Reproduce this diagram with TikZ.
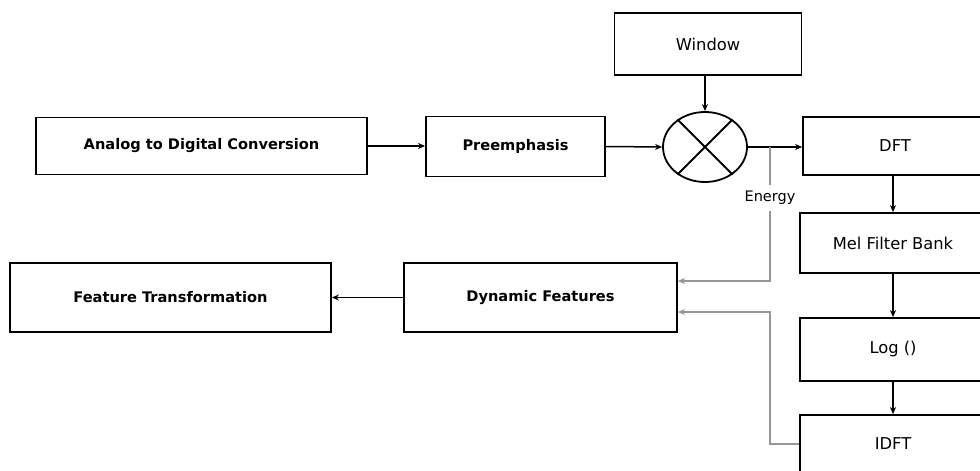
\documentclass[tikz,border=0pt]{standalone}
\usepackage{fontspec}
\setmainfont{DejaVu Sans}
\usetikzlibrary{arrows.meta,shapes.geometric}
\definecolor{lgray}{RGB}{150,150,150}
\begin{document}
\begin{tikzpicture}[x=1pt,y=-1pt,
  lbox/.style={draw=black,line width=1.8pt,inner sep=0pt,font=\fontsize{14.6}{17}\selectfont\bfseries},
  rbox/.style={draw=black,line width=1.8pt,inner sep=0pt,font=\fontsize{16.3}{19}\selectfont},
  arr/.style={line width=1.5pt,-{Stealth[length=7pt,width=6pt]}},
  garr/.style={arr,draw=lgray}]
\fill[white] (0,0) rectangle (980,471);
\useasboundingbox (0,0) rectangle (980,471);
\clip (0,0) rectangle (980,471);
\node[lbox,minimum width=331pt,minimum height=57pt] (adc) at (201.5,146) {Analog to Digital Conversion};
\node[lbox,minimum width=179pt,minimum height=60pt] (pre) at (515.5,146.5) {Preemphasis};
\node[draw,ellipse,line width=1.8pt,minimum width=84pt,minimum height=70pt,inner sep=0pt] (mix) at (705,147) {};
\node[rbox,minimum width=187pt,minimum height=62pt] (win) at (708,44) {Window};
\node[rbox,minimum width=184pt,minimum height=58pt] (dft) at (895,146) {DFT};
\node[rbox,minimum width=186pt,minimum height=60pt] (mel) at (893,243) {Mel Filter Bank};
\node[rbox,minimum width=186pt,minimum height=63pt] (log) at (893,349.5) {Log ()};
\node[rbox,minimum width=186pt,minimum height=58pt] (idft) at (893,444) {IDFT};
\node[lbox,minimum width=321pt,minimum height=69pt] (ft) at (170.5,297.5) {Feature Transformation};
\node[lbox,minimum width=273pt,minimum height=69pt] (dyn) at (540.5,297.5) {Dynamic Features};
\node[font=\fontsize{14.5}{17}\selectfont,inner sep=0pt,minimum height=26pt] (en) at (770,198) {Energy};
\draw[line width=1.8pt] (mix.45) -- (mix.225) (mix.135) -- (mix.315);
\draw[arr] (adc.east) -- (adc.east -| pre.west);
\draw[arr] (pre.east) -- (mix.west);
\draw[arr] (win.south -| mix) -- (mix.north);
\draw[arr] (mix.east) -- (mix.east -| dft.west);
\draw[arr] (dft.south -| mel.north) -- (mel.north);
\draw[arr] (mel.south) -- (log.north);
\draw[arr] (log.south) -- (idft.north);
\draw[arr] (dyn.west) -- (ft.east);
\coordinate (e0) at (770,147);
\coordinate (e1) at (770,281);
\coordinate (i1) at (770,312);
\draw[line width=1.5pt,lgray] (e0) -- (en.north);
\draw[garr] (en.south) -- (e1) -- (e1 -| dyn.east);
\draw[garr] (idft.west) -| (i1) -- (i1 -| dyn.east);
\end{tikzpicture}
\end{document}
